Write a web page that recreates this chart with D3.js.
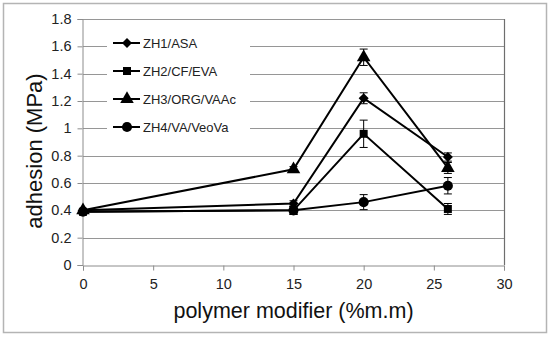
<!DOCTYPE html>
<html>
<head>
<meta charset="utf-8">
<script src="https://cdn.jsdelivr.net/npm/d3@7"></script>
<style>
body { margin:0; background:#fff; }
svg { display:block; font-family:"Liberation Sans", Arial, sans-serif; }
</style>
</head>
<body>
<script>
var xValues = [0, 15, 20, 26];
var seriesNames = ['ZH1/ASA', 'ZH2/CF/EVA', 'ZH3/ORG/VAAc', 'ZH4/VA/VeoVa'];
var zh1 = [0.40, 0.45, 1.22, 0.79];
var zh2 = [0.39, 0.40, 0.96, 0.41];
var zh3 = [0.40, 0.70, 1.52, 0.71];
var zh4 = [0.39, 0.40, 0.46, 0.58];
var zh1Err = [0.01, 0.02, 0.04, 0.03];
var zh2Err = [0.01, 0.03, 0.10, 0.04];
var zh3Err = [0.01, 0.02, 0.06, 0.04];
var zh4Err = [0.01, 0.03, 0.055, 0.06];
var xTicks = [0, 5, 10, 15, 20, 25, 30];
var yTicks = [0, 0.2, 0.4, 0.6, 0.8, 1, 1.2, 1.4, 1.6, 1.8];
var markerTypes = [d3.symbolDiamond2, d3.symbolSquare, d3.symbolTriangle, d3.symbolCircle];
var markerSizes = [64, 64, 80, 80];

var series = [zh1, zh2, zh3, zh4].map(function(v, i){
  var err = [zh1Err, zh2Err, zh3Err, zh4Err][i];
  return {name: seriesNames[i], pts: v.map(function(d, j){ return {x: xValues[j], y: d, e: err[j]}; })};
});

var svg = d3.select('body').append('svg')
  .attr('width', 550).attr('height', 338);

svg.append('rect')
  .attr('x', 3.5).attr('y', 3.5).attr('width', 543).attr('height', 329)
  .attr('fill', '#fff').attr('stroke', '#b4b4b4').attr('stroke-width', 1.5);

var x = d3.scaleLinear().domain([0, 30]).range([83, 504]);
var y = d3.scaleLinear().domain([0, 1.8]).range([265, 19]);

// gridlines
svg.append('g').selectAll('line')
  .data(yTicks.slice(1))
  .enter().append('line')
  .attr('x1', x(0)).attr('x2', x(30))
  .attr('y1', function(d){ return Math.round(y(d)) + 0.5; })
  .attr('y2', function(d){ return Math.round(y(d)) + 0.5; })
  .attr('stroke', '#969696').attr('stroke-width', 1);

// right border of plot
svg.append('line')
  .attr('x1', x(30) + 0.5).attr('x2', x(30) + 0.5)
  .attr('y1', y(1.8)).attr('y2', y(0))
  .attr('stroke', '#6e6e6e').attr('stroke-width', 1.2);

var yAxis = d3.axisLeft(y).tickValues(yTicks).tickSize(5).tickPadding(6)
  .tickFormat(function(d){ return d3.format('')(+d.toFixed(1)); });
var gy = svg.append('g').attr('transform', 'translate(' + (x(0) - 0.5) + ',0)').call(yAxis);

var xAxis = d3.axisBottom(x).tickValues(xTicks).tickSize(5).tickPadding(8);
var gx = svg.append('g').attr('transform', 'translate(0,' + (y(0) + 0.5) + ')').call(xAxis);

[gx, gy].forEach(function(g){
  g.select('.domain').attr('stroke', '#8c8c8c');
  g.selectAll('.tick line').attr('stroke', '#8c8c8c');
  g.selectAll('.tick text').attr('fill', '#222').attr('font-size', 14.5)
    .attr('font-family', '"Liberation Sans", Arial, sans-serif');
});

// legend box
var legX = 107, legY = 30;
svg.append('rect')
  .attr('x', legX).attr('y', legY).attr('width', 143).attr('height', 110)
  .attr('fill', '#fff');

var line = d3.line()
  .x(function(d){ return x(d.x); })
  .y(function(d){ return y(d.y); });

var gs = svg.selectAll('g.series')
  .data(series)
  .enter().append('g').attr('class', 'series');

gs.append('path')
  .attr('d', function(d){ return line(d.pts); })
  .attr('fill', 'none').attr('stroke', '#000').attr('stroke-width', 2);

gs.each(function(s, i){
  var g = d3.select(this);
  var eb = g.selectAll('g.err').data(s.pts).enter().append('g').attr('class', 'err');
  eb.append('line')
    .attr('x1', function(d){ return x(d.x); }).attr('x2', function(d){ return x(d.x); })
    .attr('y1', function(d){ return y(d.y - d.e); }).attr('y2', function(d){ return y(d.y + d.e); })
    .attr('stroke', '#000').attr('stroke-width', 1);
  [-1, 1].forEach(function(sg){
    eb.append('line')
      .attr('x1', function(d){ return x(d.x) - 4; }).attr('x2', function(d){ return x(d.x) + 4; })
      .attr('y1', function(d){ return y(d.y + sg * d.e); }).attr('y2', function(d){ return y(d.y + sg * d.e); })
      .attr('stroke', '#000').attr('stroke-width', 1);
  });
  g.selectAll('path.mark').data(s.pts).enter().append('path')
    .attr('class', 'mark')
    .attr('d', d3.symbol().type(markerTypes[i]).size(markerSizes[i]))
    .attr('transform', function(d){ return 'translate(' + x(d.x) + ',' + y(d.y) + ')'; })
    .attr('fill', '#000');
});

// legend items
var legRows = [43, 71, 99, 127];
var li = svg.selectAll('g.leg').data(seriesNames).enter().append('g')
  .attr('class', 'leg')
  .attr('transform', function(d, i){ return 'translate(113,' + legRows[i] + ')'; });
li.append('line').attr('x1', 0).attr('x2', 27).attr('stroke', '#000').attr('stroke-width', 2);
li.append('path')
  .attr('d', function(d, i){ return d3.symbol().type(markerTypes[i]).size(markerSizes[i])(); })
  .attr('transform', 'translate(14,0)').attr('fill', '#000');
li.append('text').attr('x', 30).attr('y', 0).attr('dy', '0.35em')
  .attr('font-size', 13).attr('fill', '#222')
  .text(function(d){ return d; });

// axis titles
svg.append('text')
  .attr('x', (x(0) + x(30)) / 2).attr('y', 318)
  .attr('text-anchor', 'middle').attr('font-size', 21.5).attr('fill', '#111')
  .text('polymer modifier (%m.m)');
svg.append('text')
  .attr('transform', 'translate(42,151) rotate(-90)')
  .attr('text-anchor', 'middle').attr('font-size', 22).attr('fill', '#111')
  .text('adhesion (MPa)');
</script>
</body>
</html>
